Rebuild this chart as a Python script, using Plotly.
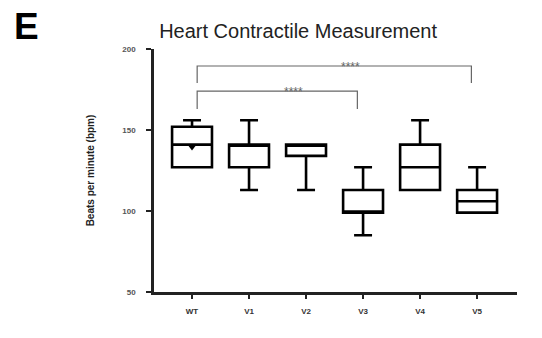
import plotly.graph_objects as go

# Summary statistics per group (beats per minute)
groups = ["WT", "V1", "V2", "V3", "V4", "V5"]
lower = [127, 113, 113, 85, 113, 99]
q1 = [127, 127, 134, 99, 113, 99]
median = [141, 141, 141, 99, 127, 106]
q3 = [152, 141, 141, 113, 141, 113]
upper = [156, 156, 141, 127, 156, 127]
wt_mean = 139.5

y_ticks = [50, 100, 150, 200]

# Significance brackets: (group a, group b, bar height, leg bottom, label)
comparisons = [("WT", "V3", 174, 163, "****"), ("WT", "V5", 189.5, 179, "****")]

fig = go.Figure()
fig.add_trace(go.Box(
    x=groups, q1=q1, median=median, q3=q3, lowerfence=lower, upperfence=upper,
    line=dict(color="black", width=2.6), fillcolor="rgba(255,255,255,0)",
    width=0.7, whiskerwidth=0.45, boxpoints=False, hoverinfo="skip",
    showlegend=False,
))
fig.add_trace(go.Scatter(
    x=["WT"], y=[wt_mean], mode="markers",
    marker=dict(symbol="triangle-down", size=7, color="black"),
    showlegend=False,
))

for a, b, top, leg, label in comparisons:
    xa = groups.index(a) + 0.09
    xb = groups.index(b) - 0.1
    fig.add_shape(type="path",
                  path=f"M {xa},{leg} L {xa},{top} L {xb},{top} L {xb},{leg}",
                  line=dict(color="#666", width=1.2), xref="x", yref="y")
    fig.add_annotation(x=(xa + xb) / 2 + 0.28, y=top, text=label, showarrow=False,
                       font=dict(size=12, color="#666", family="Liberation Sans"),
                       yshift=-1, xref="x", yref="y")

fig.update_layout(
    width=542, height=338,
    margin=dict(l=154, r=25, t=49, b=46),
    paper_bgcolor="white", plot_bgcolor="white",
    font=dict(family="Liberation Sans, Arial", color="#333"),
    title=dict(text="Heart Contractile Measurement", x=0.55, xanchor="center",
               y=0.908, yanchor="middle",
               font=dict(size=20, color="#222", family="Liberation Sans, Arial")),
    xaxis=dict(type="category", range=[-0.667, 5.7], showline=True,
               linecolor="#222", linewidth=2.5, ticks="outside", ticklen=4,
               tickwidth=2, tickcolor="#222", showgrid=False,
               ticklabelstandoff=6,
               tickfont=dict(size=8, color="#333", weight="bold"), zeroline=False),
    yaxis=dict(range=[50, 200], tickvals=y_ticks,
               ticktext=[str(v) for v in y_ticks], showline=True,
               linecolor="#222", linewidth=2.5, ticks="outside", ticklen=5,
               tickwidth=2, tickcolor="#222", showgrid=False, zeroline=False,
               ticklabelstandoff=9,
               tickfont=dict(size=8, color="#555", weight="bold"),
               title=dict(text="Beats per minute (bpm)",
                          font=dict(size=10, color="#222", weight="bold"),
                          standoff=26)),
)
fig.add_annotation(text="<b>E</b>", x=-0.39, y=1.185, xref="paper", yref="paper",
                   xanchor="left", yanchor="top", showarrow=False,
                   font=dict(size=37, color="black", family="Liberation Sans, Arial"))

fig.write_html("out.html")
